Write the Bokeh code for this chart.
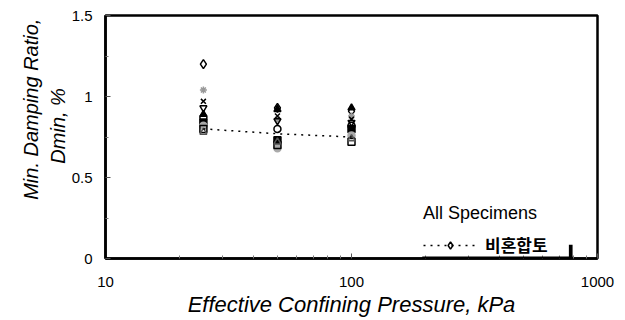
from bokeh.plotting import figure
from bokeh.models import Range1d, FixedTicker, Legend, LegendItem, BoxAnnotation
from bokeh.embed import file_html
from bokeh.resources import INLINE

# ---- data ----
pressure = [25, 50, 100]
diamond_vals = [1.20, 0.93, 0.91]
asterisk_vals = [1.04, 0.86, 0.88]
x_vals = [0.97, 0.88, 0.86]
inv_tri_vals = [0.93, 0.85, 0.84]
tri_fill_vals = [0.89, 0.92, 0.93]
circle_vals = [0.87, 0.80, 0.82]
square_fill_vals = [0.84, 0.73, 0.80]
gray_circle_vals = [0.82, 0.68, 0.76]
square_vals = [0.80, 0.70, 0.72]
tri_vals = [0.78, 0.72, 0.74]
trend_vals = [0.80, 0.77, 0.75]
y_ticks = [0, 0.5, 1, 1.5]
x_ticks = [10, 100, 1000]

FONT = "Liberation Sans"
NB = "\u00a0"

p = figure(width=625, height=320, x_axis_type="log",
           x_range=Range1d(10, 1000), y_range=Range1d(0, 1.5),
           output_backend="svg", toolbar_location=None,
           min_border_left=105, min_border_right=28,
           min_border_top=15, min_border_bottom=62)
p.grid.visible = False
p.outline_line_color = "black"
p.outline_line_width = 2.5
p.background_fill_color = "white"
p.border_fill_color = "white"

series = [
    (diamond_vals, "diamond", "black", None),
    (asterisk_vals, "asterisk", "#999999", None),
    (x_vals, "x", "black", None),
    (inv_tri_vals, "inverted_triangle", "black", None),
    (tri_fill_vals, "triangle", "black", "black"),
    (circle_vals, "circle", "black", None),
    (square_fill_vals, "square", "black", "black"),
    (gray_circle_vals, "circle", "#aaaaaa", "#aaaaaa"),
    (square_vals, "square", "black", None),
    (tri_vals, "triangle", "#555555", None),
]
renders = []
for vals, mk, col, fill in series:
    r = p.scatter(pressure, vals, marker=mk, size=7 if mk != "diamond" else 9,
                  line_color=col, line_width=1.5,
                  fill_color=fill if fill else "white",
                  fill_alpha=1.0 if fill else 0.0)
    renders.append(r)

trend = p.line(pressure, trend_vals, line_color="black", line_width=1.5,
               line_dash="2 5")

# legend shadow (bottom and right thick edges)
p.add_layout(BoxAnnotation(left=194, right=792, bottom=-0.03, top=0.012,
                           fill_color="black", fill_alpha=1, line_alpha=0,
                           level="overlay"))
p.add_layout(BoxAnnotation(left=765, right=792, bottom=-0.03, top=0.085,
                           fill_color="black", fill_alpha=1, line_alpha=0,
                           level="overlay"))

legend = Legend(items=[LegendItem(label="비혼합토", renderers=[trend, renders[0]])],
                location=(318, 1), title="All Specimens",
                title_text_font=FONT, title_text_font_size="18px",
                title_text_font_style="normal", title_text_color="black",
                label_text_font="Noto Sans CJK KR", label_text_font_size="17px",
                label_text_font_style="bold", label_text_color="black",
                glyph_width=54, glyph_height=18, label_standoff=8,
                label_height=18,
                border_line_alpha=0, background_fill_alpha=0,
                padding=0, spacing=0, title_standoff=8, margin=0)
p.add_layout(legend)

for ax in (p.xaxis[0], p.yaxis[0]):
    ax.axis_line_color = "black"
    ax.axis_line_width = 2.5
    ax.major_tick_in = 5
    ax.major_tick_out = 0
    ax.minor_tick_in = 3
    ax.minor_tick_out = 0
    ax.major_tick_line_color = "#555555"
    ax.minor_tick_line_color = "#777777"
    ax.major_label_text_font = FONT
    ax.major_label_text_font_size = "15px"
    ax.major_label_text_color = "black"
    ax.axis_label_text_font = FONT
    ax.axis_label_text_font_style = "italic"
    ax.axis_label_text_color = "black"

p.yaxis.ticker = FixedTicker(ticks=y_ticks, minor_ticks=[0.25, 0.75, 1.25])
p.yaxis.major_label_overrides = {t: ("%g" % t) for t in y_ticks}
p.yaxis.axis_label = NB * 10 + "Min. Damping Ratio,\n" + NB * 4 + "Dmin, %"
p.yaxis.axis_label_text_font_size = "20px"
p.yaxis.major_label_standoff = 13
p.yaxis.axis_label_standoff = 0

p.xaxis.ticker = FixedTicker(ticks=x_ticks,
                             minor_ticks=[20, 30, 40, 50, 60, 70, 80, 90,
                                          200, 300, 400, 500, 600, 700, 800, 900])
p.xaxis.major_label_overrides = {t: str(t) for t in x_ticks}
p.xaxis.axis_label = "Effective Confining Pressure, kPa"
p.xaxis.axis_label_text_font_size = "22px"
p.xaxis.major_label_standoff = 18
p.xaxis.axis_label_standoff = 2

open("out.html", "w").write(file_html(p, INLINE))
